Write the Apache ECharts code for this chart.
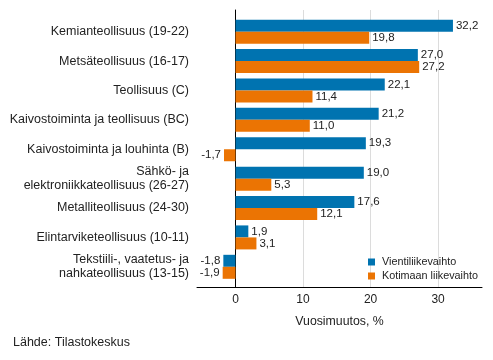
<!DOCTYPE html>
<html>
<head>
<meta charset="utf-8">
<script src="https://cdn.jsdelivr.net/npm/echarts@6/dist/echarts.min.js"></script>
<style>html,body{margin:0;padding:0;background:#fff}#c{width:493px;height:360px}</style>
</head>
<body>
<div id="c"></div>
<script>
const categories = [
  'Kemianteollisuus (19-22)',
  'Metsäteollisuus (16-17)',
  'Teollisuus (C)',
  'Kaivostoiminta ja teollisuus (BC)',
  'Kaivostoiminta ja louhinta (B)',
  'Sähkö- ja\nelektroniikkateollisuus (26-27)',
  'Metalliteollisuus (24-30)',
  'Elintarviketeollisuus (10-11)',
  'Tekstiili-, vaatetus- ja\nnahkateollisuus (13-15)'
];
const vienti = [32.2, 27.0, 22.1, 21.2, 19.3, 19.0, 17.6, 1.9, -1.8];
const kotimaa = [19.8, 27.2, 11.4, 11.0, -1.7, 5.3, 12.1, 3.1, -1.9];
const seriesNames = ['Vientiliikevaihto', 'Kotimaan liikevaihto'];
const xTicks = [0, 10, 20, 30];

const FONT = 'Liberation Sans, Arial, sans-serif';
const XMIN = -5.7, XMAX = 36.5;
const fmt = v => v.toFixed(1).replace('.', ',');
const toItems = arr => arr.map(v => ({
  value: v,
  label: { position: v < 0 ? 'left' : 'right' }
}));

const chart = echarts.init(document.getElementById('c'), null, { renderer: 'canvas' });
chart.setOption({
  animation: false,
  textStyle: { fontFamily: FONT },
  grid: [
    { left: 197, right: 11, top: 10, bottom: 73 },
    { left: 197, right: 11, top: 17, bottom: 78.5 }
  ],
  legend: {
    orient: 'vertical',
    left: 368, top: 255.5, padding: 0,
    icon: 'rect', itemWidth: 7, itemHeight: 7, itemGap: 1,
    textStyle: { fontSize: 10.8, lineHeight: 13, color: '#222', fontFamily: FONT, padding: [0, 0, 0, 2] },
    data: seriesNames
  },
  graphic: [{
    type: 'text', left: 13, top: 336,
    style: { text: 'Lähde: Tilastokeskus', fontSize: 12.5, fill: '#222', fontFamily: FONT }
  }],
  xAxis: [
    {
      gridIndex: 0, type: 'value', min: XMIN, max: XMAX,
      axisLine: { show: true, onZero: false, lineStyle: { color: '#000', width: 1 } },
      axisTick: { show: false },
      axisLabel: {
        fontSize: 12, color: '#222', margin: 7, fontFamily: FONT,
        formatter: v => xTicks.indexOf(Math.round(v * 10) / 10) >= 0 ? String(v) : ''
      },
      splitLine: { show: true, showMinLine: false, showMaxLine: false, lineStyle: { color: '#dcdcdc', width: 1 } },
      name: 'Vuosimuutos, %', nameLocation: 'middle', nameGap: 29,
      nameTextStyle: { fontSize: 12.3, color: '#222', fontFamily: FONT }
    },
    {
      gridIndex: 1, type: 'value', min: XMIN, max: XMAX, show: false
    }
  ],
  yAxis: [
    {
      gridIndex: 0, type: 'value', min: 0, max: 1,
      axisLine: { show: true, onZero: true, lineStyle: { color: '#000', width: 1 } },
      axisTick: { show: false }, axisLabel: { show: false }, splitLine: { show: false }
    },
    {
      gridIndex: 1, type: 'category', inverse: true, data: categories,
      axisLine: { show: false }, axisTick: { show: false }, splitLine: { show: false },
      axisLabel: { fontSize: 12.5, color: '#222', margin: 8, lineHeight: 14, fontFamily: FONT }
    }
  ],
  series: [
    {
      name: seriesNames[0], type: 'bar', xAxisIndex: 1, yAxisIndex: 1,
      data: toItems(vienti), barWidth: 12, barGap: '0%',
      itemStyle: { color: '#0073b0' },
      label: { show: true, distance: 3, fontSize: 11.5, color: '#222', fontFamily: FONT, formatter: p => fmt(p.value) }
    },
    {
      name: seriesNames[1], type: 'bar', xAxisIndex: 1, yAxisIndex: 1,
      data: toItems(kotimaa), barWidth: 12, barGap: '0%',
      itemStyle: { color: '#eb7403' },
      label: { show: true, distance: 3, fontSize: 11.5, color: '#222', fontFamily: FONT, formatter: p => fmt(p.value) }
    }
  ]
});
</script>
</body>
</html>
